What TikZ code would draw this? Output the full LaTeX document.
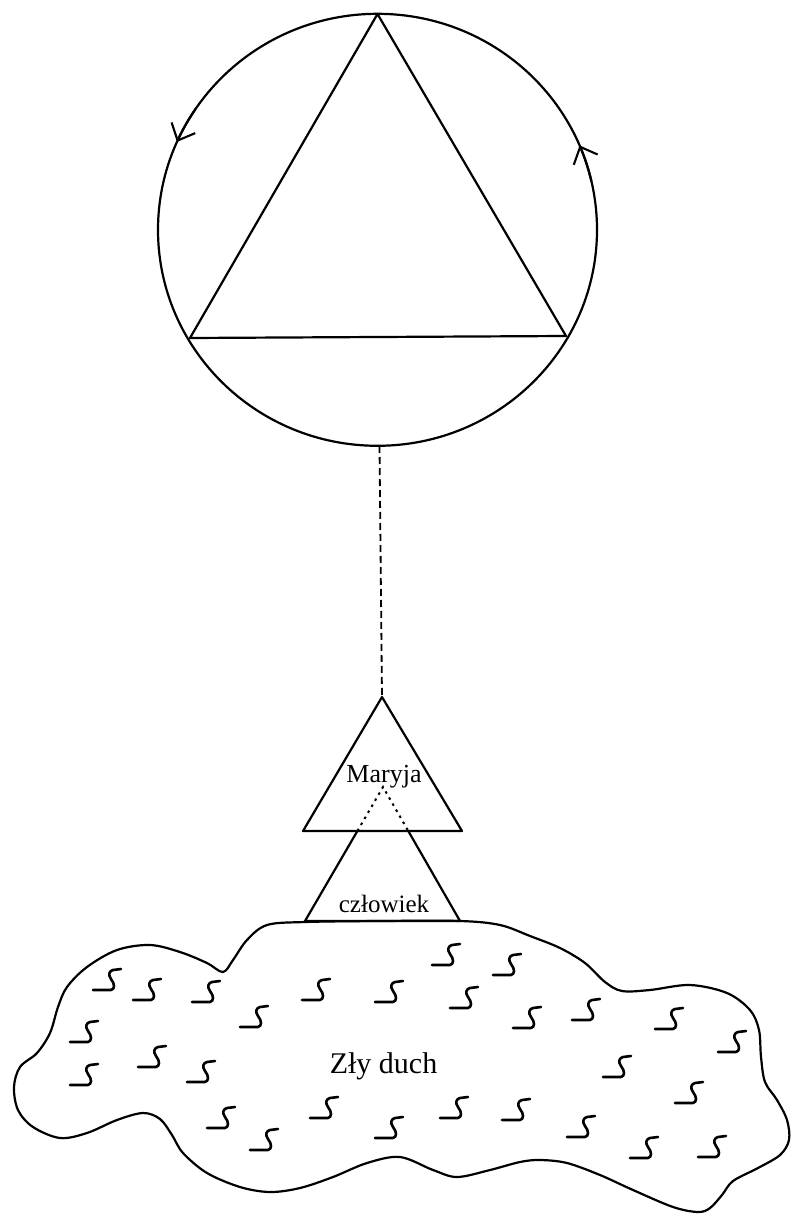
\documentclass[tikz,border=0pt]{standalone}
\usepackage{fontspec}
\setmainfont{Liberation Serif}
\usetikzlibrary{arrows.meta,calc}
\begin{document}
\begin{tikzpicture}[x=1pt,y=-1pt,
  line/.style={line width=2.2pt, black, line join=round},
  dashline/.style={line width=1.8pt, dash pattern=on 7pt off 4pt},
  dotline/.style={line width=2pt, dash pattern=on 2.5pt off 4.5pt},
  sqline/.style={line width=2.6pt, line cap=round, line join=round},
  lbl/.style={inner sep=0pt, anchor=base},
  barb/.style={-{Straight Barb[length=14pt,width=26pt,line width=2.1pt]}},
  sq/.pic={\draw[sqline] (0,0) -- (18,0) .. controls (22,-1) and (22,-6) .. (18,-11) .. controls (15,-15) and (16,-19) .. (20,-20) -- (28,-21);}
]
\useasboundingbox (0,0) rectangle (791,1214);
\fill[white] (0,0) rectangle (791,1214);

% circle with triangle
\coordinate (cc) at (377.5,229.8);
\draw[line] (cc) ellipse[x radius=219.5, y radius=216];
\coordinate (t1) at (377.5,14);
\coordinate (t2) at (190,338);
\coordinate (t3) at (566,336);
\draw[line] (t1) -- (t2) -- (t3) -- cycle;
\draw[line, barb] ($(cc)+(-146:219.5 and 216)$) arc[start angle=-146, end angle=-156, x radius=219.5, y radius=216];
\draw[line, barb] ($(cc)+(-13:219.5 and 216)$) arc[start angle=-13, end angle=-23, x radius=219.5, y radius=216];

% Maryja triangle
\coordinate (cb) at (379.5,446);
\coordinate (m1) at (382,697);
\coordinate (m2) at (303,831);
\coordinate (m3) at (462,831);
\draw[dashline] (cb) -- (m1);
\draw[line] (m1) -- (m2) -- (m3) -- cycle;

% czlowiek triangle
\coordinate (c1) at (383,787);
\coordinate (c2) at (305,921);
\coordinate (c3) at (460,921);
\coordinate (c2m) at ($(c2)!0.6716!(c1)$);
\coordinate (c3m) at ($(c3)!0.6716!(c1)$);
\draw[line] (c2m) -- (c2) -- (c3) -- (c3m);
\draw[dotline] (c2m) -- (c1) -- (c3m);

\node[lbl, font=\fontsize{26}{30}\selectfont] (maryja) at (384,782) {Maryja};
\node[lbl, font=\fontsize{25}{30}\selectfont] (czl) at (384,912) {człowiek};

% cloud
\draw[line] plot[smooth cycle, tension=0.55] coordinates {
 (267,925) (305,922) (380,921) (460,921) (500,925) (530,936) (560,948) (585,963)
 (605,982) (622,991) (650,990) (690,985) (727,993) (750,1010) (759,1030) (761,1057)
 (765,1082) (777,1100) (787,1120) (789,1140) (780,1155) (758,1168) (733,1181)
 (722,1195) (710,1208) (698,1212) (673,1207) (633,1190) (600,1175) (567,1163)
 (540,1160) (520,1162) (490,1170) (457,1177) (433,1170) (400,1157) (367,1163)
 (333,1177) (300,1188) (270,1192) (240,1187) (207,1173) (183,1153) (172,1135)
 (160,1119) (143,1113) (117,1120) (87,1133) (60,1138) (33,1127) (18,1110)
 (14,1087) (20,1067) (37,1053) (50,1033) (58,1007) (67,987) (87,967) (117,950)
 (150,945) (180,952) (207,963) (223,972) (233,960) (247,940)};

\node[lbl, font=\fontsize{30}{34}\selectfont] (zly) at (383.5,1073) {Zły duch};

% squiggles
\foreach \p in {(93,990),(133,1000),(192,1002),(240,1027),(70,1042),(138,1067),
  (187,1082),(70,1085),(207,1128),(250,1150),(302,1000),(375,1002),(310,1118),
  (375,1138),(432,965),(493,975),(450,1008),(513,1028),(440,1118),(502,1120),
  (572,1020),(655,1029),(718,1052),(603,1077),(675,1103),(567,1137),(630,1158),(698,1157)}
  \pic at \p {sq};
\end{tikzpicture}
\end{document}
